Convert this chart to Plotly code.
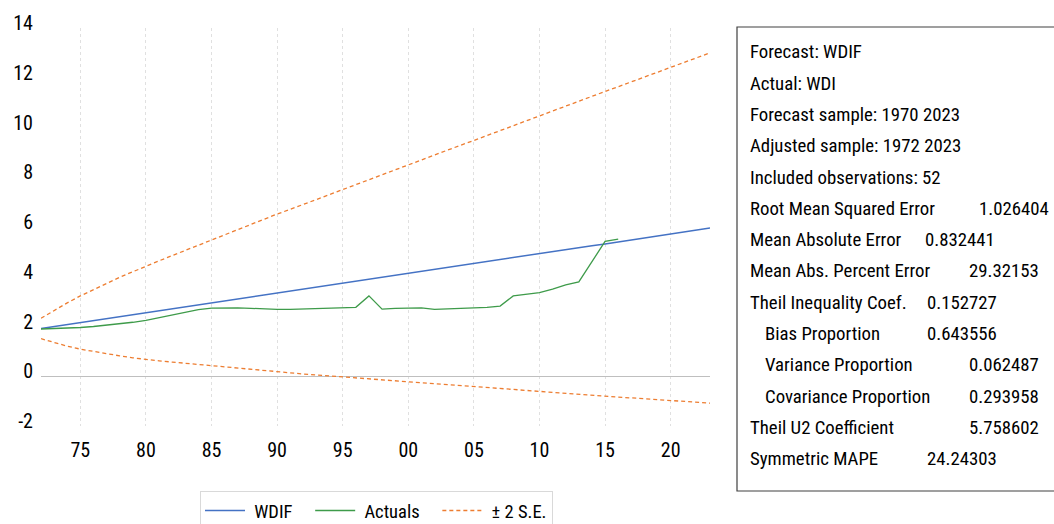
import plotly.graph_objects as go

years_all = list(range(1972, 2024))
years_act = list(range(1972, 2017))

wdif = [1.92, 2.00, 2.08, 2.16, 2.24, 2.32, 2.40, 2.47, 2.55, 2.63, 2.71, 2.79, 2.87, 2.95,
        3.03, 3.11, 3.19, 3.27, 3.35, 3.42, 3.50, 3.58, 3.66, 3.74, 3.82, 3.90, 3.98, 4.06,
        4.14, 4.22, 4.30, 4.37, 4.45, 4.53, 4.61, 4.69, 4.77, 4.85, 4.93, 5.01, 5.09, 5.17,
        5.25, 5.32, 5.40, 5.48, 5.56, 5.64, 5.72, 5.80, 5.88, 5.96]

upper = [2.33, 2.65, 2.95, 3.23, 3.49, 3.74, 3.98, 4.20, 4.43, 4.64, 4.85, 5.06, 5.27, 5.47,
         5.68, 5.89, 6.10, 6.31, 6.52, 6.71, 6.91, 7.11, 7.31, 7.50, 7.70, 7.91, 8.11, 8.31,
         8.51, 8.71, 8.90, 9.09, 9.29, 9.48, 9.68, 9.88, 10.08, 10.27, 10.47, 10.67, 10.87,
         11.07, 11.26, 11.45, 11.64, 11.83, 12.02, 12.22, 12.41, 12.61, 12.80, 13.00]

lower = [1.51, 1.35, 1.21, 1.09, 0.99, 0.90, 0.82, 0.74, 0.67, 0.62, 0.57, 0.52, 0.47, 0.43,
         0.38, 0.33, 0.28, 0.23, 0.18, 0.13, 0.09, 0.05, 0.01, -0.02, -0.06, -0.11, -0.15,
         -0.19, -0.23, -0.27, -0.30, -0.35, -0.39, -0.42, -0.46, -0.50, -0.54, -0.57, -0.61,
         -0.65, -0.69, -0.73, -0.76, -0.81, -0.84, -0.87, -0.90, -0.94, -0.97, -1.01, -1.04,
         -1.08]

actuals = [1.90, 1.91, 1.93, 1.96, 2.00, 2.05, 2.10, 2.17, 2.25, 2.35, 2.47, 2.58, 2.68, 2.74,
           2.76, 2.75, 2.73, 2.70, 2.69, 2.69, 2.70, 2.72, 2.74, 2.76, 2.77, 3.23, 2.70, 2.73,
           2.74, 2.75, 2.69, 2.72, 2.75, 2.75, 2.77, 2.82, 3.23, 3.30, 3.36, 3.50, 3.67, 3.79,
           4.60, 5.42, 5.51]

xtick_vals = [1975, 1980, 1985, 1990, 1995, 2000, 2005, 2010, 2015, 2020]
xtick_text = ["75", "80", "85", "90", "95", "00", "05", "10", "15", "20"]
ytick_vals = [-2, 0, 2, 4, 6, 8, 10, 12, 14]
ytick_text = ["-2", "0", "2", "4", "6", "8", "10", "12", "14"]

stat_labels = ["Forecast: WDIF", "Actual: WDI", "Forecast sample: 1970 2023",
               "Adjusted sample: 1972 2023", "Included observations: 52",
               "Root Mean Squared Error", "Mean Absolute Error", "Mean Abs. Percent Error",
               "Theil Inequality Coef.", "Bias Proportion", "Variance Proportion",
               "Covariance Proportion", "Theil U2 Coefficient", "Symmetric MAPE"]
stat_values = ["", "", "", "", "", "1.026404", "0.832441", "29.32153", "0.152727",
               "0.643556", "0.062487", "0.293958", "5.758602", "24.24303"]
stat_value_x = [0, 0, 0, 0, 0, 977, 923, 967, 925, 925, 967, 967, 967, 925]
stat_indent = [0, 0, 0, 0, 0, 0, 0, 0, 0, 1, 1, 1, 0, 0]

NB = "\u00a0"
legend_names = [NB + "WDIF" + NB * 3, NB + "Actuals" + NB * 3, NB + "± 2 S.E."]

FONT = "Liberation Sans Narrow, Arial Narrow, Roboto Condensed, Liberation Sans, sans-serif"
W, H = 1054, 524
L, R, T, B = 41, 710, 28, 426  # plot area pixels

BLUE = "#4472C4"
GREEN = "#3E9B4A"
ORANGE = "#ED7D31"

fig = go.Figure()
fig.add_trace(go.Scatter(x=years_all, y=wdif, mode="lines", name=legend_names[0],
                         line=dict(color=BLUE, width=1.5)))
fig.add_trace(go.Scatter(x=years_act, y=actuals, mode="lines", name=legend_names[1],
                         line=dict(color=GREEN, width=1.3)))
fig.add_trace(go.Scatter(x=years_all, y=upper, mode="lines", name=legend_names[2],
                         legendgroup="se",
                         line=dict(color=ORANGE, width=1.3, dash="4px,3px")))
fig.add_trace(go.Scatter(x=years_all, y=lower, mode="lines", name=legend_names[2],
                         legendgroup="se", showlegend=False,
                         line=dict(color=ORANGE, width=1.3, dash="4px,3px")))

pw = R - L
ph = B - T


def px_x(x):
    return (x - L) / pw


def px_y(y):
    return (B - y) / ph


shapes = [dict(type="rect", xref="paper", yref="paper",
               x0=px_x(737), x1=px_x(1080), y0=px_y(491), y1=px_y(27),
               line=dict(color="#404040", width=1.2), fillcolor="rgba(0,0,0,0)")]

annotations = []
for i, (lab, val) in enumerate(zip(stat_labels, stat_values)):
    yc = 52.3 + i * 31.3
    xl = 763 if stat_indent[i] else 748
    annotations.append(dict(xref="paper", yref="paper", x=px_x(xl), y=px_y(yc),
                            xanchor="left", yanchor="middle", showarrow=False,
                            text=lab, font=dict(family=FONT, size=18.8, color="#000000")))
    if val:
        annotations.append(dict(xref="paper", yref="paper", x=px_x(stat_value_x[i]),
                                y=px_y(yc), xanchor="left", yanchor="middle",
                                showarrow=False, text=val,
                                font=dict(family=FONT, size=18.8, color="#000000")))

fig.update_layout(
    width=W, height=H,
    margin=dict(l=L, r=W - R, t=T, b=H - B, pad=0, autoexpand=False),
    paper_bgcolor="white", plot_bgcolor="white",
    font=dict(family=FONT, size=20, color="#000000"),
    showlegend=True,
    legend=dict(orientation="h", x=px_x(200), y=px_y(491), xanchor="left", yanchor="top",
                bordercolor="#d9d9d9", borderwidth=1, bgcolor="white",
                font=dict(family=FONT, size=18.5, color="#000000"),
                itemwidth=40, tracegroupgap=0),
    xaxis=dict(range=[1972, 2023], tickvals=xtick_vals, ticktext=xtick_text,
               showgrid=True, gridcolor="#e0e0e0", griddash="3px,3px", gridwidth=1,
               zeroline=False, showline=False, ticks="", ticklabelstandoff=10,
               tickfont=dict(family=FONT, size=20, color="#000000")),
    yaxis=dict(range=[-2, 14], tickvals=ytick_vals, ticktext=ytick_text, showgrid=False,
               zeroline=True, zerolinecolor="#bfbfbf", zerolinewidth=1,
               showline=False, ticks="", ticklabelstandoff=7, ticklabelshift=-5,
               tickfont=dict(family=FONT, size=20, color="#000000")),
    shapes=shapes,
    annotations=annotations,
)

fig.write_html("out.html", config={"displayModeBar": False},
               post_script="document.body.style.margin='0';")
